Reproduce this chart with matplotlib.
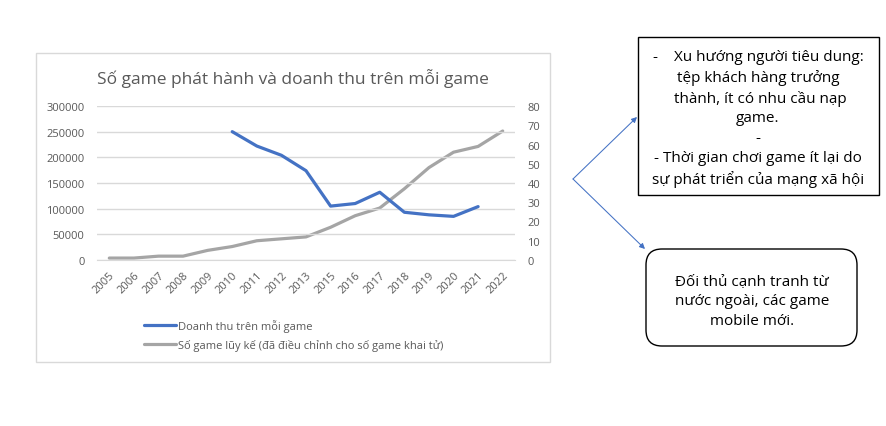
import matplotlib.pyplot as plt
import matplotlib.transforms as mtransforms
from matplotlib.patches import Rectangle, FancyBboxPatch

plt.rcParams['font.family'] = ['Open Sans', 'DejaVu Sans']

# data
years = ['2005', '2006', '2007', '2008', '2009', '2010', '2011', '2012', '2013',
         '2015', '2016', '2017', '2018', '2019', '2020', '2021', '2022']
# revenue per game (left axis), starts in 2010, ends in 2021
revenue = [None, None, None, None, None, 250000, 222000, 204000, 174000,
           105000, 110000, 132000, 93000, 88000, 85000, 104000, None]
# cumulative number of games (right axis)
games = [1, 1, 2, 2, 5, 7, 10, 11, 12, 17, 23, 27, 37, 48, 56, 59, 67]

title = 'Số game phát hành và doanh thu trên mỗi game'
label_rev = 'Doanh thu trên mỗi game'
label_games = 'Số game lũy kế (đã điều chỉnh cho số game khai tử)'

box1_text = ('-    Xu hướng người tiêu dung:\ntệp khách hàng trưởng\n thành, ít có nhu cầu nạp\n'
             'game.\n-\n- Thời gian chơi game ít lại do\nsự phát triển của mạng xã hội')
box2_text = 'Đối thủ cạnh tranh từ\nnước ngoài, các game\nmobile mới.'

W, H = 887, 427
fig = plt.figure(figsize=(W / 100, H / 100), dpi=100)
fig.patch.set_facecolor('white')

def fx(px):
    return px / W

def fy(py):
    return 1 - py / H

# chart frame
fig.patches.append(Rectangle((fx(36), fy(363)), fx(550) - fx(36), fy(54) - fy(363),
                             transform=fig.transFigure, fill=False,
                             edgecolor='#D9D9D9', linewidth=1))

ax = fig.add_axes([fx(97), fy(261), fx(515) - fx(97), fy(107) - fy(261)])
ax2 = ax.twinx()

x = list(range(len(years)))
rev_x = [i for i, v in zip(x, revenue) if v is not None]
rev_y = [v for v in revenue if v is not None]

l2, = ax2.plot(x, games, color='#A5A5A5', linewidth=2.3, solid_capstyle='round')
l1, = ax.plot(rev_x, rev_y, color='#4472C4', linewidth=2.3, solid_capstyle='round')
ax.set_zorder(ax2.get_zorder() + 1)
ax.patch.set_visible(False)

ax.set_xlim(-0.5, len(years) - 0.5)
ax.set_ylim(0, 300000)
ax.set_yticks(range(0, 300001, 50000))
ax2.set_ylim(0, 80)
ax2.set_yticks(range(0, 81, 10))

ax.grid(axis='y', color='#D9D9D9', linewidth=1)
ax.set_axisbelow(True)
for a in (ax, ax2):
    for s in a.spines.values():
        s.set_visible(False)
ax.spines['bottom'].set_visible(True)
ax.spines['bottom'].set_color('#D9D9D9')

ax.set_xticks(x)
ax.set_xticklabels(years, rotation=45, ha='right', va='top', rotation_mode='anchor')
shift = mtransforms.ScaledTranslation(6 / 100, 0, fig.dpi_scale_trans)
for lab in ax.get_xticklabels():
    lab.set_transform(lab.get_transform() + shift)
ax.tick_params(axis='x', length=0, pad=7, labelsize=8, labelcolor='#595959')
ax.tick_params(axis='y', length=0, pad=9, labelsize=8, labelcolor='#595959')
ax2.tick_params(axis='y', length=0, pad=9, labelsize=8, labelcolor='#595959')

fig.text(fx(293), fy(78), title, ha='center', va='center', fontsize=12.5, color='#595959')

fig.legend([l1, l2], [label_rev, label_games], loc='upper left',
           bbox_to_anchor=(fx(134), fy(310)), frameon=False, fontsize=8,
           handlelength=2.9, handletextpad=0.15, labelspacing=0.65,
           labelcolor='#595959')

# annotation boxes
fig.patches.append(Rectangle((fx(638), fy(196)), fx(879) - fx(638), fy(38) - fy(196),
                             transform=fig.transFigure, fill=False,
                             edgecolor='black', linewidth=1))
fig.patches.append(FancyBboxPatch((fx(646), fy(347)), fx(857) - fx(646), fy(250) - fy(347),
                                  boxstyle='round,pad=0,rounding_size=0.018',
                                  transform=fig.transFigure, fill=False,
                                  edgecolor='black', linewidth=1,
                                  mutation_aspect=W / H))
fig.text(fx(758), fy(119), box1_text, ha='center', va='center', fontsize=11,
         color='black', linespacing=1.42)
fig.text(fx(752), fy(302), box2_text, ha='center', va='center', fontsize=11,
         color='black', linespacing=1.42)

for end in [(637, 118), (645, 250)]:
    fig.add_artist(plt.Annotation('', xy=(fx(end[0]), fy(end[1])), xytext=(fx(573), fy(180)),
                                  xycoords='figure fraction', textcoords='figure fraction',
                                  arrowprops=dict(arrowstyle='-|>', color='#4472C4', lw=0.75,
                                                  mutation_scale=8, shrinkA=0, shrinkB=0)))

fig.savefig('out.png', dpi=100)
